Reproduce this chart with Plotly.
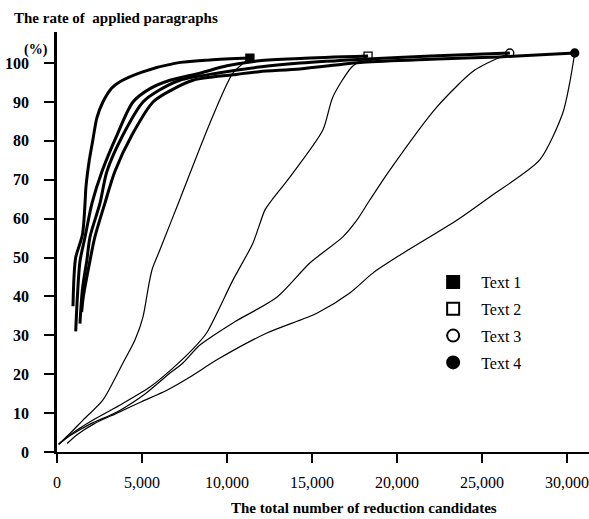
import plotly.graph_objects as go

# ---- data ----
texts = ["Text 1", "Text 2", "Text 3", "Text 4"]

# thick curves
thick1_x = [940, 1000, 1100, 1500, 1650, 1700, 1900, 2100, 2350, 2700, 3200, 3700, 5000, 7000, 9000, 11350]
thick1_y = [37.5, 45, 50, 56, 64, 68, 75, 80, 86, 90, 93.5, 95.2, 97.7, 100, 100.8, 101.3]

thick2_x = [1100, 1200, 1350, 1650, 2060, 2650, 3530, 4470, 5500, 6650, 8400, 10000, 11900, 14300, 18300]
thick2_y = [31, 40, 49, 55.3, 64, 72.2, 81.5, 90, 93.5, 95.6, 97.4, 99.3, 100.6, 101.2, 101.8]

thick3_x = [1350, 1500, 1760, 1940, 2530, 2940, 3880, 5060, 6000, 7230, 9400, 11900, 14300, 18000, 22000, 26640]
thick3_y = [33, 42, 49.4, 55.3, 64, 72.2, 81.5, 90, 93, 95.6, 97.4, 99, 100, 101, 101.8, 102.6]

thick4_x = [1450, 1550, 1950, 2230, 2820, 3410, 4410, 5650, 6700, 8000, 10350, 11900, 14300, 18000, 22000, 26000, 30460]
thick4_y = [36, 40, 49.4, 55.3, 64, 72.2, 81.5, 90, 93, 95.6, 97, 97.8, 98.5, 100.2, 101, 101.6, 102.6]

# thin curves
thin1_x = [100, 700, 1529, 2705, 3880, 4586, 5057, 5400, 5600, 6056, 7232, 9000, 10350, 11350]
thin1_y = [2, 4.5, 8.2, 13.4, 22.9, 28.8, 34.7, 43, 47, 52, 65, 84.6, 97.4, 101.3]

thin2_x = [100, 800, 2117, 3800, 5468, 6800, 8000, 8800, 10349, 11525, 12230, 12642, 13700, 15641, 16229, 17346, 18300]
thin2_y = [2, 4.5, 8.2, 12.3, 16.7, 21.5, 26.5, 30.6, 44.2, 53.7, 62.2, 64.8, 70.7, 82.8, 91.3, 99, 101.8]

thin3_x = [100, 800, 2000, 3528, 5200, 6644, 7409, 8408, 10349, 12936, 14876, 16817, 17640, 18404, 19580, 22344, 24578, 26640]
thin3_y = [2, 4.3, 7.3, 10.3, 15, 20.3, 22.9, 27.5, 33.2, 39.8, 48.6, 55.3, 59.6, 64.8, 72.5, 88.7, 98.2, 102.6]

thin4_x = [600, 1200, 2200, 3528, 5000, 6468, 7900, 9408, 12348, 15288, 17228, 18580, 20168, 23520, 25460, 28400, 29753, 30164, 30460]
thin4_y = [2.2, 4.5, 7.3, 10, 13, 15.9, 19.5, 23.7, 30.6, 35.7, 40.9, 46, 50.6, 59.6, 65.6, 75.1, 87.1, 94.9, 102.6]

x_ticks = [0, 5000, 10000, 15000, 20000, 25000, 30000]
y_ticks = [0, 10, 20, 30, 40, 50, 60, 70, 80, 90, 100]

thick_x = [thick1_x, thick2_x, thick3_x, thick4_x]
thick_y = [thick1_y, thick2_y, thick3_y, thick4_y]
thin_x = [thin1_x, thin2_x, thin3_x, thin4_x]
thin_y = [thin1_y, thin2_y, thin3_y, thin4_y]

symbols = ["square", "square-open", "circle-open", "circle"]

FONT = "Liberation Serif"

fig = go.Figure()

for i in range(4):
    fig.add_trace(go.Scatter(x=thin_x[i], y=thin_y[i], mode="lines",
                             line=dict(color="black", width=1.2, shape="spline", smoothing=0.7),
                             showlegend=False, hoverinfo="skip"))
for i in range(4):
    fig.add_trace(go.Scatter(x=thick_x[i], y=thick_y[i], mode="lines",
                             line=dict(color="black", width=3, shape="spline", smoothing=0.8),
                             showlegend=False, hoverinfo="skip"))
for i in range(4):
    fig.add_trace(go.Scatter(x=[thick_x[i][-1]], y=[thick_y[i][-1]], mode="markers",
                             name=texts[i], legendgroup=texts[i],
                             marker=dict(symbol=symbols[i], size=8, color="black",
                                         line=dict(color="black", width=1.3))))

fig.update_layout(
    width=589, height=519,
    margin=dict(l=57, r=0, t=32, b=67),
    plot_bgcolor="white", paper_bgcolor="white",
    font=dict(family=FONT, color="black", size=16),
    showlegend=True,
    legend=dict(x=0.692, y=0.445, xanchor="left", yanchor="top",
                traceorder="grouped", tracegroupgap=3, itemwidth=46,
                font=dict(family=FONT, size=16, color="black"),
                bgcolor="rgba(0,0,0,0)", itemsizing="constant"),
    xaxis=dict(range=[0, 31300], tickvals=x_ticks, tickformat=",d",
               showgrid=False, zeroline=False, showline=True, linecolor="black", linewidth=2,
               ticks="outside", ticklen=9, tickwidth=2, tickcolor="black",
               ticklabelstandoff=6,
               tickfont=dict(family=FONT, size=16, color="black")),
    yaxis=dict(range=[0, 108], tickvals=y_ticks,
               showgrid=False, zeroline=False, showline=True, linecolor="black", linewidth=2.5,
               ticks="outside", ticklen=10, tickwidth=2, tickcolor="black",
               ticklabelstandoff=12,
               tickfont=dict(family=FONT, size=16, color="black", weight="bold")),
    annotations=[
        dict(text="<b>The rate of  applied paragraphs</b>", xref="paper", yref="paper",
             x=-0.0846, y=1.033, xanchor="left", yanchor="middle", showarrow=False,
             font=dict(family=FONT, size=15, color="black")),
        dict(text="<b>(%)</b>", xref="paper", yref="paper",
             x=-0.066, y=0.957, xanchor="left", yanchor="middle", showarrow=False,
             font=dict(family=FONT, size=14, color="black")),
        dict(text="<b>The total number of reduction candidates</b>", xref="paper", yref="paper",
             x=0.577, y=-0.133, xanchor="center", yanchor="middle", showarrow=False,
             font=dict(family=FONT, size=15, color="black")),
    ],
)

fig.write_html("out.html")
